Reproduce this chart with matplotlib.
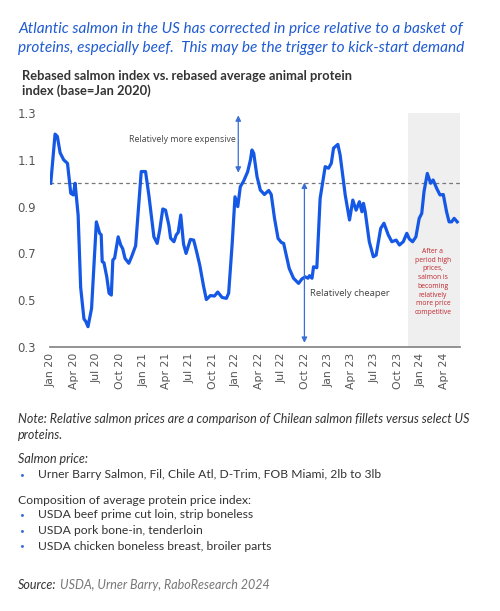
import pandas as pd
import matplotlib.pyplot as plt
import matplotlib.dates as mdates

# salmon index relative to average animal protein index (base = Jan 2020)
dates = [
    "2020-01-01", "2020-01-18", "2020-01-27", "2020-02-07", "2020-02-21", "2020-03-07",
    "2020-03-20", "2020-03-30", "2020-04-06", "2020-04-18", "2020-04-28", "2020-05-11",
    "2020-05-18", "2020-05-27", "2020-06-10", "2020-06-29", "2020-07-12", "2020-07-18",
    "2020-07-22", "2020-07-29", "2020-08-09", "2020-08-18", "2020-08-27", "2020-09-02",
    "2020-09-09", "2020-09-23", "2020-10-03", "2020-10-11", "2020-10-20", "2020-11-04",
    "2020-11-15", "2020-12-01", "2020-12-11", "2020-12-23", "2021-01-09", "2021-01-22",
    "2021-02-11", "2021-02-24", "2021-03-06", "2021-03-18", "2021-03-29", "2021-04-11",
    "2021-04-18", "2021-05-01", "2021-05-10", "2021-05-18", "2021-05-28", "2021-06-08",
    "2021-06-18", "2021-06-26", "2021-07-05", "2021-07-18", "2021-07-29", "2021-08-11",
    "2021-08-26", "2021-09-06", "2021-09-22", "2021-10-08", "2021-10-21", "2021-11-07",
    "2021-11-24", "2021-12-03", "2021-12-17", "2021-12-28", "2022-01-08", "2022-01-18",
    "2022-01-31", "2022-02-16", "2022-02-27", "2022-03-05", "2022-03-12", "2022-03-25",
    "2022-04-07", "2022-04-23", "2022-05-10", "2022-05-20", "2022-06-02", "2022-06-16",
    "2022-06-29", "2022-07-08", "2022-07-21", "2022-07-30", "2022-08-16", "2022-09-05",
    "2022-09-18", "2022-10-01", "2022-10-12", "2022-10-18", "2022-10-28", "2022-11-03",
    "2022-11-16", "2022-11-29", "2022-12-19", "2023-01-01", "2023-01-12", "2023-01-21",
    "2023-02-07", "2023-02-16", "2023-03-08", "2023-03-25", "2023-04-07", "2023-04-20",
    "2023-05-03", "2023-05-13", "2023-05-19", "2023-05-26", "2023-06-11", "2023-06-27",
    "2023-07-08", "2023-07-26", "2023-08-08", "2023-08-25", "2023-09-08", "2023-09-25",
    "2023-10-08", "2023-10-23", "2023-11-06", "2023-11-16", "2023-11-29", "2023-12-12",
    "2023-12-25", "2024-01-04", "2024-01-13", "2024-01-26", "2024-02-08", "2024-02-18",
    "2024-03-03", "2024-03-16", "2024-03-29", "2024-04-11", "2024-04-21", "2024-05-01",
    "2024-05-11", "2024-05-23",
]
index = [
    1.00, 1.21, 1.20, 1.13, 1.10, 1.085,
    0.957, 0.95, 1.00, 0.864, 0.555, 0.42,
    0.41, 0.387, 0.465, 0.835, 0.786, 0.78,
    0.665, 0.66, 0.60, 0.53, 0.522, 0.672,
    0.68, 0.771, 0.736, 0.72, 0.679, 0.658,
    0.686, 0.733, 0.878, 1.05, 1.05, 0.95,
    0.771, 0.743, 0.80, 0.89, 0.885, 0.821,
    0.765, 0.75, 0.779, 0.79, 0.864, 0.74,
    0.70, 0.729, 0.76, 0.757, 0.71, 0.65,
    0.56, 0.503, 0.52, 0.518, 0.535, 0.512,
    0.508, 0.53, 0.743, 0.942, 0.90, 0.985,
    1.009, 1.049, 1.10, 1.142, 1.128, 1.028,
    0.971, 0.952, 0.969, 0.952, 0.85, 0.764,
    0.747, 0.743, 0.679, 0.636, 0.594, 0.572,
    0.591, 0.60, 0.594, 0.605, 0.594, 0.643,
    0.639, 0.935, 1.071, 1.064, 1.085, 1.15,
    1.166, 1.12, 0.95, 0.843, 0.928, 0.885,
    0.921, 0.878, 0.914, 0.878, 0.75, 0.686,
    0.693, 0.807, 0.829, 0.779, 0.75, 0.757,
    0.736, 0.75, 0.786, 0.762, 0.75, 0.771,
    0.85, 0.871, 0.964, 1.042, 1.00, 1.014,
    0.978, 0.95, 0.952, 0.878, 0.835, 0.835,
    0.85, 0.835,
]
yticks = [0.3, 0.5, 0.7, 0.9, 1.1, 1.3]
shade_start, shade_end = "2023-11-11", "2024-06-03"

dates = pd.to_datetime(dates)
blue = "#1558e6"
arrow_blue = "#3a6fd8"

fig = plt.figure(figsize=(5, 6.11), dpi=100)
ax = fig.add_axes([0.1, 0.432, 0.82, 0.383])

ax.axvspan(pd.Timestamp(shade_start), pd.Timestamp(shade_end), color="#efefef", zorder=0, lw=0)
ax.axhline(1.0, color="#777777", lw=0.9, ls=(0, (3, 2.5)), zorder=1)
ax.plot(dates, index, color=blue, lw=2.3, solid_joinstyle="round", zorder=3)

# arrows
ax.annotate("", xy=(pd.Timestamp("2022-01-10"), 1.29), xytext=(pd.Timestamp("2022-01-10"), 1.045),
            arrowprops=dict(arrowstyle="<|-|>", color=arrow_blue, lw=0.9, mutation_scale=8, shrinkA=0, shrinkB=0))
ax.annotate("", xy=(pd.Timestamp("2022-09-28"), 1.003), xytext=(pd.Timestamp("2022-09-28"), 0.318),
            arrowprops=dict(arrowstyle="<|-|>", color=arrow_blue, lw=0.9, mutation_scale=8, shrinkA=0, shrinkB=0))
ax.text(pd.Timestamp("2022-01-02"), 1.185, "Relatively more expensive", ha="right", va="center",
        fontsize=6.3, color="#444444", family="Open Sans")
ax.text(pd.Timestamp("2022-10-20"), 0.53, "Relatively cheaper", ha="left", va="center",
        fontsize=6.8, color="#444444", family="Open Sans")
ax.text(pd.Timestamp("2024-02-17"), 0.578,
        "After a\nperiod high\nprices,\nsalmon is\nbecoming\nrelatively\nmore price\ncompetitive",
        ha="center", va="center", fontsize=4.9, color="#c0262d", linespacing=1.35, family="Open Sans")

ax.set_ylim(0.3, 1.3)
ax.set_xlim(pd.Timestamp("2019-12-29"), pd.Timestamp("2024-06-03"))
ax.set_yticks(yticks)
ax.set_yticklabels([f"{v:.1f}" for v in yticks])
ax.xaxis.set_major_locator(mdates.MonthLocator(bymonth=[1, 4, 7, 10]))
ax.xaxis.set_major_formatter(mdates.DateFormatter("%b %y"))
ax.tick_params(axis="x", rotation=90, length=0, pad=4, labelsize=7.8, labelcolor="#555555")
ax.tick_params(axis="y", length=0, pad=10, labelsize=8.4, labelcolor="#555555")
for s in ["top", "right", "left"]:
    ax.spines[s].set_visible(False)
ax.spines["bottom"].set_color("#8a8a8a")
ax.spines["bottom"].set_linewidth(1.3)
ax.patch.set_alpha(0)

W, H = 500, 611
def ft(x, y, s, **kw):
    fig.text(x / W, 1 - y / H, s, va="center", ha="left", **kw)

title_kw = dict(color="#1f5bd0", fontsize=11.05, style="italic", family="Lato")
ft(18, 29, "Atlantic salmon in the US has corrected in price relative to a basket of", **title_kw)
ft(18, 48, "proteins, especially beef.  This may be the trigger to kick-start demand", **title_kw)

sub_kw = dict(color="#333333", fontsize=9.3, weight="bold", family="Lato")
ft(22, 76, "Rebased salmon index vs. rebased average animal protein", **sub_kw)
ft(22, 91, "index (base=Jan 2020)", **sub_kw)

note_kw = dict(color="#333333", family="Lato")
ft(18, 419, "Note: Relative salmon prices are a comparison of Chilean salmon fillets versus select US",
   style="italic", fontsize=9.0, **note_kw)
ft(18, 435, "proteins.", style="italic", fontsize=9.0, **note_kw)
ft(18, 459, "Salmon price:", style="italic", fontsize=9.0, **note_kw)
ft(18, 500, "Composition of average protein price index:", fontsize=8.7, **note_kw)
bullets = [
    (475, "Urner Barry Salmon, Fil, Chile Atl, D-Trim, FOB Miami, 2lb to 3lb"),
    (515, "USDA beef prime cut loin, strip boneless"),
    (531, "USDA pork bone-in, tenderloin"),
    (546, "USDA chicken boneless breast, broiler parts"),
]
for y, s in bullets:
    ft(19, y, "\u2022", color="#3a6fd8", fontsize=6, family="Lato")
    ft(38, y, s, fontsize=8.7, **note_kw)

ft(18, 585, "Source:", style="italic", fontsize=9.0, **note_kw)
ft(60, 585, "USDA, Urner Barry, RaboResearch 2024", style="italic", color="#777777", fontsize=9.0, family="Lato")

fig.savefig("out.png", dpi=100)
